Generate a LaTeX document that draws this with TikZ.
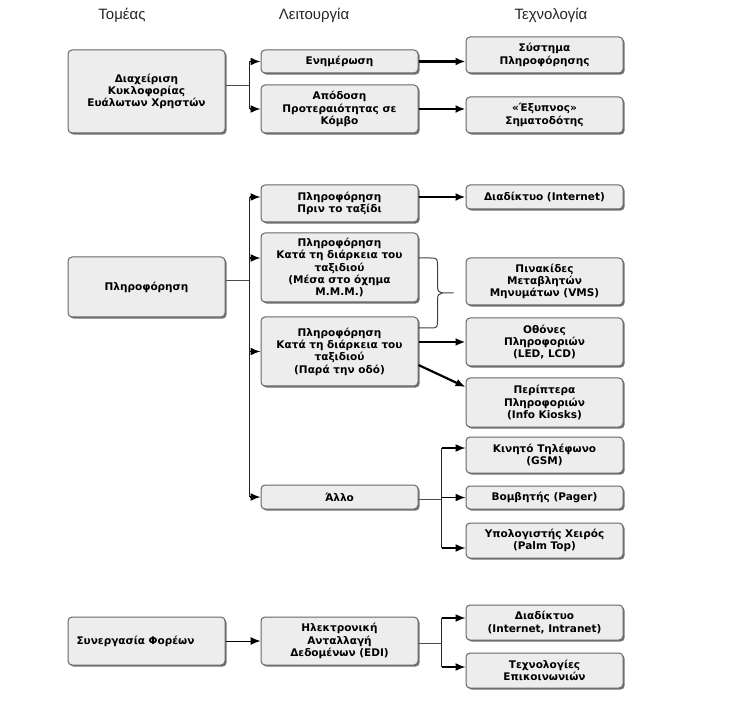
\documentclass[tikz,border=0pt]{standalone}
\usepackage{fontspec}
\setmainfont{DejaVu Sans}
\newfontfamily\hdrfont{Liberation Sans}
\usetikzlibrary{arrows.meta,shadows,calc}
\begin{document}
\begin{tikzpicture}[x=1pt,y=-1pt,
  box/.style={draw=black!60, line width=1pt, fill=black!7, rounded corners=4pt,
    minimum width=157pt, inner sep=1pt, align=center,
    font=\fontsize{10.5}{12.3}\selectfont\bfseries, text=black,
    drop shadow={shadow xshift=1.6pt, shadow yshift=-1.6pt, fill=black!55, opacity=1}},
  hdr/.style={font=\hdrfont\fontsize{15}{18}\selectfont, text=black!85},
  feed/.style={line width=1pt, draw=black!70},
  trunk/.style={line width=1.5pt, draw=black!85},
  arr/.style={line width=2.2pt, draw=black, -{Latex[length=10pt,width=8pt]}},
  tarr/.style={line width=1.5pt, draw=black, -{Latex[length=10pt,width=8pt]}},
  bracepath/.style={line width=1pt, draw=black!75},
]
\useasboundingbox (0,0) rectangle (742,703);

% headers
\node[hdr] (h1) at (122,15) {Τομέας};
\node[hdr] (h2) at (314,15) {Λειτουργία};
\node[hdr] (h3) at (551,15) {Τεχνολογία};

% group A
\node[box, minimum height=83pt] (a1) at (146.5,91.5) {Διαχείριση\\Κυκλοφορίας\\Ευάλωτων Χρηστών};
\node[box, minimum height=23pt] (f1) at (339.5,61.5) {Ενημέρωση};
\node[box, minimum height=48pt] (f2) at (339.5,109) {Απόδοση\\Προτεραιότητας σε\\Κόμβο};
\node[box, minimum height=36pt] (t1) at (544.5,55) {Σύστημα\\Πληροφόρησης};
\node[box, minimum height=36pt] (t2) at (544.5,115) {«Έξυπνος»\\Σηματοδότης};

% group B
\node[box, minimum height=60pt] (b1) at (146.5,287) {Πληροφόρηση};
\node[box, minimum height=37pt] (f3) at (339.5,203.5) {Πληροφόρηση\\Πριν το ταξίδι};
\node[box, minimum height=69pt] (f4) at (339.5,267.5) {Πληροφόρηση\\Κατά τη διάρκεια του\\ταξιδιού\\(Μέσα στο όχημα\\Μ.Μ.Μ.)};
\node[box, minimum height=69pt] (f5) at (339.5,351.5) {Πληροφόρηση\\Κατά τη διάρκεια του\\ταξιδιού\\(Παρά την οδό)};
\node[box, minimum height=24pt] (f6) at (339.5,497) {Άλλο};
\node[box, minimum height=24pt] (t3) at (544.5,197) {Διαδίκτυο (Internet)};
\node[box, minimum height=47pt] (t4) at (544.5,281.5) {Πινακίδες\\Μεταβλητών\\Μηνυμάτων (VMS)};
\node[box, minimum height=48pt] (t5) at (544.5,342) {Οθόνες\\Πληροφοριών\\(LED, LCD)};
\node[box, minimum height=49pt] (t6) at (544.5,402.5) {Περίπτερα\\Πληροφοριών\\(Info Kiosks)};
\node[box, minimum height=36pt] (t7) at (544.5,455) {Κινητό Τηλέφωνο\\(GSM)};
\node[box, minimum height=23pt] (t8) at (544.5,497.5) {Βομβητής (Pager)};
\node[box, minimum height=35pt] (t9) at (544.5,540.5) {Υπολογιστής Χειρός\\(Palm Top)};

% group C
\node[box, minimum height=48pt, text width=140pt, align=left] (c1) at (146.5,641) {Συνεργασία Φορέων};
\node[box, minimum height=48pt] (f7) at (339.5,641) {Ηλεκτρονική\\Ανταλλαγή\\Δεδομένων (EDI)};
\node[box, minimum height=35pt] (t10) at (544.5,622.5) {Διαδίκτυο\\(Internet, Intranet)};
\node[box, minimum height=35pt] (t11) at (544.5,670.5) {Τεχνολογίες\\Επικοινωνιών};

% connectors A
\coordinate (ja) at ($(a1.east)+(24,-5.5)$);
\draw[feed] (a1.east |- ja) -- (ja);
\draw[trunk] (ja |- f1.west) -- (ja |- f2.west);
\draw[tarr] (ja |- f1.west) -- (f1.west);
\draw[tarr] (ja |- f2.west) -- (f2.west);
\draw[arr] (f1.east) -- (t1.west |- f1.east);
\draw[arr] (f2.east) -- (t2.west |- f2.east);

% connectors B
\coordinate (jb) at ($(b1.east)+(24,-6)$);
\coordinate (p4) at ($(f4.west)+(0,-9.5)$);
\draw[feed] (b1.east |- jb) -- (jb);
\draw[trunk] (jb |- t3.west) -- (jb |- f6.west);
\draw[tarr] (jb |- t3.west) -- (f3.west |- t3.west);
\draw[tarr] (jb |- p4) -- (p4);
\draw[tarr] (jb |- f5.west) -- (f5.west);
\draw[tarr] (jb |- f6.west) -- (f6.west);
\draw[arr] (f3.east |- t3.west) -- (t3.west);
\draw[arr] (f5.east |- t5.west) -- (t5.west);
\draw[arr] ($(f5.east)+(0,13.5)$) -- ($(t6.west)+(0,-15.5)$);

% brace
\coordinate (bt) at (f4.east |- p4);
\coordinate (bb) at ($(f5.east)+(0,-23.5)$);
\coordinate (bm) at ($(bt)!0.5!(bb)$);
\coordinate (btip) at ($(bm)+(35,0)$);
\draw[bracepath] (bt) -- ++(12,0) .. controls ++(7,0) and ++(0,-7) .. ++(7,8)
  -- ($(bm)+(19,-6)$) .. controls ++(0,4) and ++(-3,0) .. ($(bm)+(24,0)$) -- (btip);
\draw[bracepath] (bb) -- ++(12,0) .. controls ++(7,0) and ++(0,7) .. ++(7,-8)
  -- ($(bm)+(19,6)$) .. controls ++(0,-4) and ++(-3,0) .. ($(bm)+(24,0)$);

% Allo branch
\coordinate (jo) at ($(f6.east)+(23,2)$);
\coordinate (q7) at ($(t7.west)+(0,-7)$);
\coordinate (q9) at ($(t9.west)+(0,7.5)$);
\draw[feed] (f6.east |- jo) -- (jo);
\draw[trunk] (jo |- q7) -- (jo |- q9);
\draw[tarr] (jo |- q7) -- (q7);
\draw[tarr] (jo |- t8.west) -- (t8.west);
\draw[tarr] (jo |- q9) -- (q9);

% group C connectors
\coordinate (jc) at ($(f7.east)+(23,2)$);
\coordinate (q10) at ($(t10.west)+(0,-4.5)$);
\coordinate (q11) at ($(t11.west)+(0,-3.5)$);
\draw[tarr, line width=1pt] (c1.east) -- (f7.west);
\draw[feed] (f7.east |- jc) -- (jc);
\draw[trunk] (jc |- q10) -- (jc |- q11);
\draw[tarr] (jc |- q10) -- (q10);
\draw[tarr] (jc |- q11) -- (q11);
\end{tikzpicture}
\end{document}
